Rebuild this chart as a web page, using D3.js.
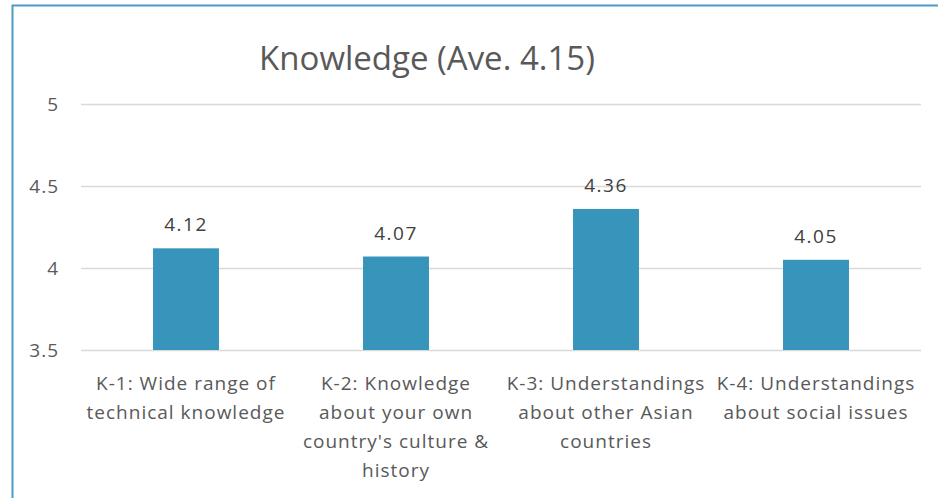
<!DOCTYPE html>
<html>
<head>
<meta charset="utf-8">
<script src="https://cdn.jsdelivr.net/npm/d3@7"></script>
<style>
  html, body { margin: 0; padding: 0; background: #fff; }
  svg { display: block; }
</style>
</head>
<body>
<svg id="chart" width="938" height="498"></svg>
<script>
const categories = [
  ["K-1: Wide range of", "technical knowledge"],
  ["K-2: Knowledge", "about your own", "country's culture &", "history"],
  ["K-3: Understandings", "about other Asian", "countries"],
  ["K-4: Understandings", "about social issues"]
];
const values = [4.12, 4.07, 4.36, 4.05];
const yTicks = [3.5, 4, 4.5, 5];
const title = "Knowledge (Ave. 4.15)";

const svg = d3.select("#chart");
const font = "'Open Sans', 'Noto Sans', sans-serif";

const margin = { left: 81, right: 938 - 921, top: 104, bottom: 498 - 350 };
const width = 938 - margin.left - margin.right;
const height = 498 - margin.top - margin.bottom;

// chart frame
svg.append("rect")
  .attr("x", 12.5).attr("y", 5.5)
  .attr("width", 938).attr("height", 498)
  .attr("fill", "#fff")
  .attr("stroke", "#4a9cc6").attr("stroke-width", 2);

const g = svg.append("g").attr("transform", `translate(${margin.left},${margin.top})`);

const x = d3.scaleBand()
  .domain(d3.range(values.length))
  .range([0, width])
  .paddingInner(0.686).paddingOuter(0.343);

const y = d3.scaleLinear().domain([3.5, 5]).range([height, 0]);

// gridlines
const yAxis = d3.axisLeft(y).tickValues(yTicks).tickSize(-width).tickPadding(22)
  .tickFormat(d3.format("~g"));
const ya = g.append("g").call(yAxis);
ya.select(".domain").remove();
ya.selectAll(".tick line").attr("stroke", "#d9d9d9").attr("stroke-width", 1.5);
ya.selectAll(".tick text")
  .attr("fill", "#595959").style("font-family", font).style("font-size", "19px")
  .style("letter-spacing", "1px");

// bars
g.selectAll("rect.bar").data(values).join("rect")
  .attr("class", "bar")
  .attr("x", (d, i) => x(i))
  .attr("width", x.bandwidth())
  .attr("y", d => y(d))
  .attr("height", d => height - y(d))
  .attr("fill", "#3795bc");

// value labels
g.selectAll("text.val").data(values).join("text")
  .attr("class", "val")
  .attr("x", (d, i) => x(i) + x.bandwidth() / 2)
  .attr("y", d => y(d) - 17)
  .attr("text-anchor", "middle")
  .attr("fill", "#404040")
  .style("font-family", font).style("font-size", "19px")
  .style("letter-spacing", "1.5px")
  .text(d => d.toFixed(2));

// category labels
const cat = g.selectAll("text.cat").data(categories).join("text")
  .attr("class", "cat")
  .attr("text-anchor", "middle")
  .attr("fill", "#595959")
  .style("font-family", font).style("font-size", "19px")
  .style("letter-spacing", "1px");
cat.each(function (lines, i) {
  d3.select(this).selectAll("tspan").data(lines).join("tspan")
    .attr("x", x(i) + x.bandwidth() / 2)
    .attr("y", (d, j) => height + 40 + j * 29)
    .text(d => d);
});

// title
svg.append("text")
  .attr("x", 427).attr("y", 70)
  .attr("text-anchor", "middle")
  .attr("fill", "#595959")
  .style("font-family", font).style("font-size", "33px")
  .text(title);
</script>
</body>
</html>
